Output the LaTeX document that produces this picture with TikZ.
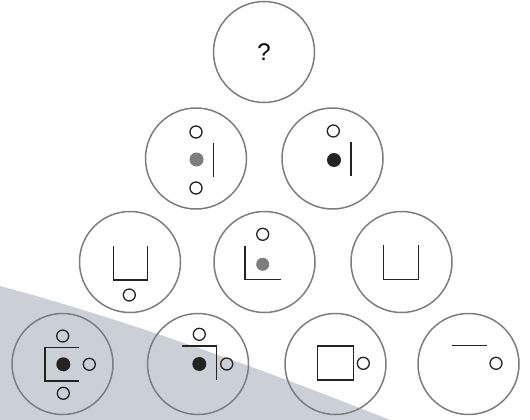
\documentclass[tikz,border=0pt]{standalone}
\usepackage{fontspec}
\setmainfont{Liberation Sans}
\definecolor{ringgray}{RGB}{125,125,125}
\definecolor{bandgray}{RGB}{203,208,214}
\definecolor{dotgray}{RGB}{125,125,125}
\definecolor{ink}{RGB}{35,35,35}
\begin{document}
\begin{tikzpicture}[x=1pt,y=-1pt,
  ring/.style={circle,draw=ringgray,line width=1.5pt,minimum size=101pt,inner sep=0pt},
  fig/.style={draw=ink,line width=1.4pt},
  hole/.style={draw=ink,line width=1.3pt},
  blackdot/.style={fill=ink},
  greydot/.style={fill=dotgray}]
\useasboundingbox (0,0) rectangle (530,420);
% background band
\fill[bandgray] (0,286) .. controls (120,318) and (260,368) .. (390,420) -- (0,420) -- cycle;

% rings
\node[ring,font=\fontsize{24}{24}\selectfont] (r1) at (264,52) {?};
\node[ring] (r2a) at (196,158.5) {};
\node[ring] (r2b) at (332.5,158.5) {};
\node[ring] (r3a) at (130,262) {};
\node[ring] (r3b) at (264.5,262) {};
\node[ring] (r3c) at (401.5,262) {};
\node[ring] (r4a) at (62.5,364) {};
\node[ring] (r4b) at (198,364) {};
\node[ring] (r4c) at (335.5,364) {};
\node[ring] (r4d) at (468.5,364) {};

% row 2, left
\draw[hole] (196,132) circle[radius=6pt];
\fill[greydot] (196.5,159.5) circle[radius=7pt];
\draw[hole] (196,188) circle[radius=6pt];
\draw[fig] (213.3,142.5) -- (213.3,176.5);

% row 2, right
\draw[hole] (333.3,131) circle[radius=6pt];
\fill[blackdot] (334,160) circle[radius=7pt];
\draw[fig] (351,141.5) -- (351,176);

% row 3, left
\draw[fig] (113.3,245.5) -- (113.3,280) -- (147.7,280) -- (147.7,245.5);
\draw[hole] (129.3,295) circle[radius=6pt];

% row 3, middle
\draw[hole] (262.7,234.3) circle[radius=6pt];
\draw[fig] (245,245.5) -- (245,279.3) -- (280.7,279.3);
\fill[greydot] (262.7,264.3) circle[radius=6.5pt];

% row 3, right
\draw[fig] (383.3,245) -- (383.3,279.3) -- (418.3,279.3) -- (418.3,245);

% row 4, first
\draw[hole] (62.7,336) circle[radius=6pt];
\draw[fig] (79.3,347.7) -- (45,347.7) -- (45,381) -- (79.3,381);
\fill[blackdot] (63.3,364.3) circle[radius=7pt];
\draw[hole] (89.3,364.3) circle[radius=6pt];
\draw[hole] (63.3,393.3) circle[radius=6pt];

% row 4, second
\draw[hole] (199.3,334.3) circle[radius=6pt];
\draw[fig] (181.7,346) -- (216.7,346) -- (216.7,380);
\fill[blackdot] (199.3,364) circle[radius=7pt];
\draw[hole] (226.7,364) circle[radius=6pt];

% row 4, third
\draw[fig] (317.7,346) rectangle (353.3,380);
\draw[hole] (363.3,363.3) circle[radius=6pt];

% row 4, fourth
\draw[fig] (451.7,345.7) -- (486.7,345.7);
\draw[hole] (496,363.3) circle[radius=6pt];
\end{tikzpicture}
\end{document}
